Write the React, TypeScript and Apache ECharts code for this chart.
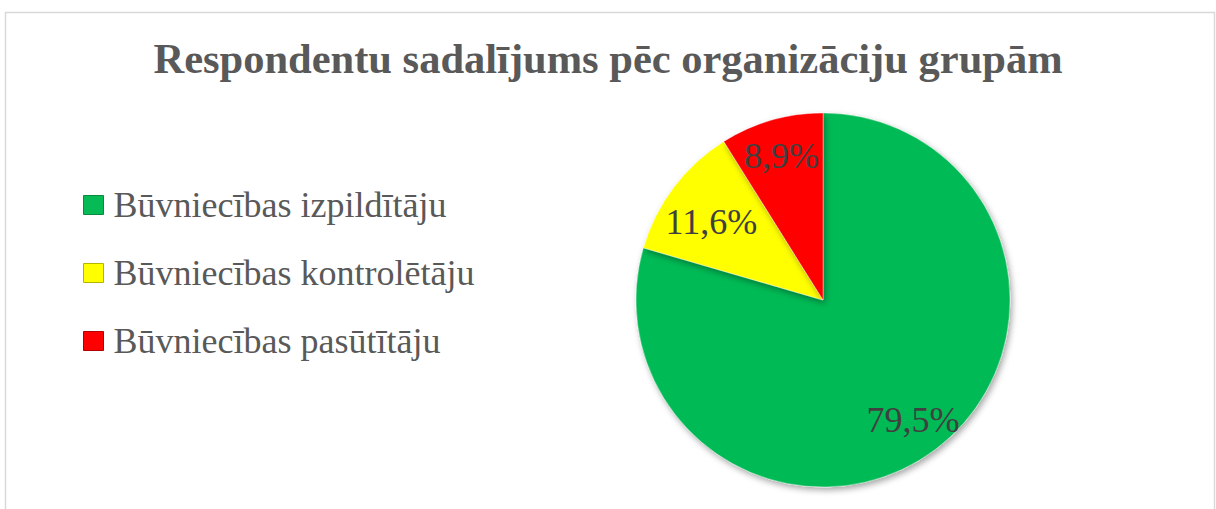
import React, { useEffect, useRef } from "react";
import * as echarts from "echarts";

const titleText = "Respondentu sadalījums pēc organizāciju grupām";
const categories = [
  "Būvniecības izpildītāju",
  "Būvniecības kontrolētāju",
  "Būvniecības pasūtītāju",
];
const values = [79.5, 11.6, 8.9];
const colors = ["#06BA55", "#FFFF00", "#FF0000"];
const borderColors = ["#0a8a3e", "#b5b500", "#b00000"];
const SERIF = "'Liberation Serif', 'Times New Roman', 'DejaVu Serif', serif";

export default function App() {
  const ref = useRef<HTMLDivElement>(null);
  useEffect(() => {
    document.body.style.margin = "0";
    const chart = echarts.init(ref.current!, undefined, { renderer: "svg" });
    const data = categories.map((name, i) => ({
      name,
      value: values[i],
      itemStyle: { color: colors[i] },
    }));
    const labelData = categories.map((name, i) => ({
      name,
      value: values[i],
    }));
    chart.setOption({
      animation: false,
      backgroundColor: "#ffffff",
      title: {
        text: titleText,
        left: "center",
        top: 32,
        textStyle: {
          fontFamily: SERIF,
          fontWeight: "bold",
          fontSize: 42.5,
          color: "#595959",
        },
      },
      legend: {
        orient: "vertical",
        left: 78,
        top: 182,
        itemWidth: 20,
        itemHeight: 19,
        itemGap: 32,
        icon: "rect",
        data: categories.map((name, i) => ({
          name,
          itemStyle: { color: colors[i], borderColor: borderColors[i], borderWidth: 1 },
        })),
        textStyle: {
          fontFamily: SERIF,
          fontSize: 36,
          color: "#595959",
          padding: [0, 0, 0, 5],
        },
      },
      graphic: [
        {
          type: "rect",
          shape: { x: 5.5, y: 12.5, width: 1209, height: 520 },
          style: { fill: "none", stroke: "#d9d9d9", lineWidth: 1.5 },
          silent: true,
        },
      ],
      series: [
        {
          type: "pie",
          center: [823, 300],
          radius: [0, 187],
          startAngle: 90,
          clockwise: true,
          label: { show: false },
          labelLine: { show: false },
          itemStyle: {
            borderColor: "rgba(255,255,255,0.35)",
            borderWidth: 1,
            shadowBlur: 6,
            shadowColor: "rgba(0,0,0,0.35)",
            shadowOffsetX: 2,
            shadowOffsetY: 3,
          },
          emphasis: { disabled: true },
          data,
        },
        {
          type: "pie",
          center: [823, 300],
          radius: [107, 187],
          startAngle: 90,
          clockwise: true,
          silent: true,
          itemStyle: { color: "rgba(0,0,0,0)" },
          label: {
            show: true,
            position: "inside",
            fontFamily: SERIF,
            fontSize: 36,
            color: "#404040",
            formatter: (p: any) => p.value.toFixed(1).replace(".", ",") + "%",
          },
          labelLayout: (p: any) => (p.dataIndex === 1 ? { dx: 8, dy: 12 } : {}),
          labelLine: { show: false },
          emphasis: { disabled: true },
          data: labelData,
        },
      ],
    });
    return () => chart.dispose();
  }, []);
  return <div ref={ref} style={{ width: 1216, height: 509 }} />;
}
